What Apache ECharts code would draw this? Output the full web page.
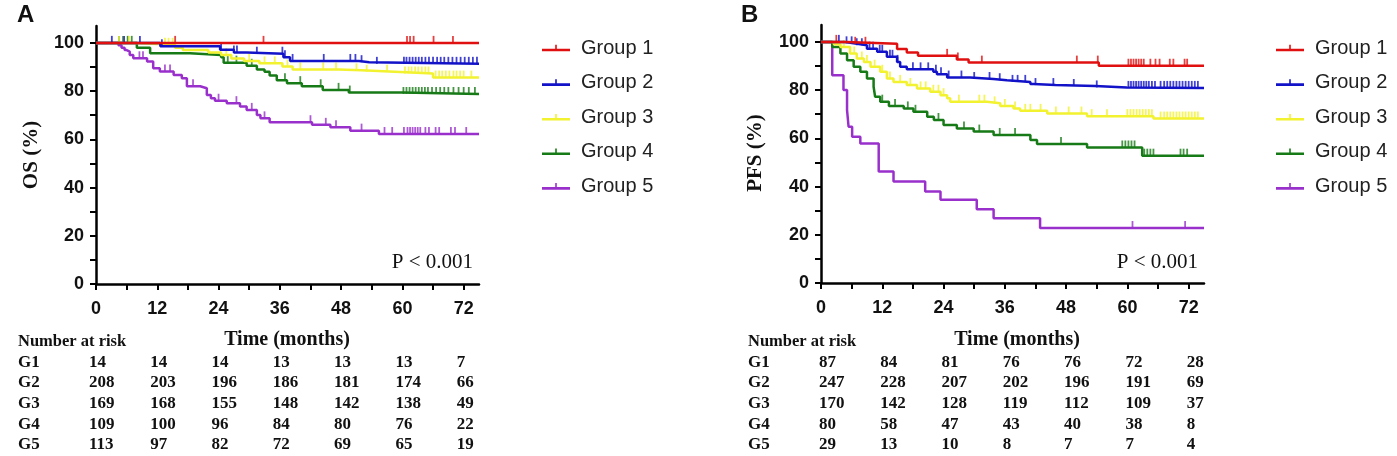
<!DOCTYPE html>
<html>
<head>
    <meta charset="utf-8">
    <title>OS / PFS Kaplan-Meier</title>
    <script src="https://cdn.jsdelivr.net/npm/echarts@6/dist/echarts.min.js"></script>
    <style>
        html, body { margin: 0; padding: 0; background: #fff; }
        #main { width: 1397px; height: 456px; }
    </style>
</head>
<body>
<div id="main"></div>
<script type="text/javascript">

    // ---- data ----
    var groups = ['Group 1', 'Group 2', 'Group 3', 'Group 4', 'Group 5'];
    var colors = ['#e01010', '#1212c8', '#f2f230', '#167a16', '#9a30cc'];
    var monthTicks = [0, 12, 24, 36, 48, 60, 72];
    var riskLabels = ['G1', 'G2', 'G3', 'G4', 'G5'];

    // panel A : overall survival, steps as [month, %]
    var osG1 = [[0, 100], [75, 100]];
    var osG2 = [[0, 100], [12.6, 98.6], [24.3, 97.2], [27, 96], [29.5, 95.5], [36.7, 94], [38, 92.5], [51.5, 92], [53.5, 91.3], [75, 91.3]];
    var osG3 = [[0, 100], [7.3, 99.2], [15.5, 98], [17, 97], [22, 96], [24.5, 95], [26.5, 93.5], [29, 92.5], [32, 91.5], [36.5, 90.2], [38.5, 89], [47.5, 88.6], [52, 88], [58.5, 87.3], [66, 85.6], [75, 85.6]];
    var osG4 = [[0, 100], [8, 98], [10.6, 95.7], [18.4, 95], [24.5, 94], [25, 91.8], [29.5, 90.5], [31.5, 89], [33, 88], [34, 86.5], [35.4, 84.5], [37.4, 83.3], [40.3, 82], [44.4, 80.5], [49.5, 79.4], [60, 78.8], [75, 78.8]];
    var osG5 = [[0, 100], [4.4, 99], [5, 98], [5.6, 97], [6, 96.4], [6.6, 95], [7.3, 93.6], [10, 92.3], [11.2, 89.5], [12.5, 88.1], [15.2, 86.7], [16.8, 85.3], [17.8, 82], [20.4, 81.2], [21.7, 78.4], [22.5, 77], [23.3, 76], [25.6, 75], [28.2, 73.6], [29.5, 72.2], [31.5, 70.1], [32.2, 68.7], [34, 67.1], [42.3, 66], [45.9, 65], [49.8, 63.6], [55.4, 62.2], [75, 62.2]];

    var osCensG1 = [15.5, 32.8, 60.9, 61.5, 62.2, 66.1, 69.9];
    var osCensG2 = [3.1, 5.5, 8.6, 12.9, 24.5, 27, 27.6, 31.5, 36.5, 37, 38.5, 44.6, 49.8, 50.8, 52, 55, 60.3, 60.8, 61.4, 62, 62.6, 63.2, 63.8, 64.5, 65.2, 66, 66.8, 67.5, 68.2, 69, 69.8, 70.6, 71.4, 72.2, 73, 73.8, 74.6];
    var osCensG3 = [4.5, 5.5, 6.5, 13.5, 14.2, 15, 25.5, 30, 33, 35, 37.5, 40, 44.5, 47, 51, 53, 57, 60.5, 61.2, 61.8, 62.5, 63.1, 63.8, 64.5, 65.1, 66.5, 67.2, 67.8, 68.5, 69.2, 70, 70.6, 71.3, 72, 73.5];
    var osCensG4 = [4.5, 5.3, 6.2, 7, 25.8, 27.5, 30.5, 37, 40, 44, 47.5, 49.7, 60.2, 60.8, 61.4, 62, 62.6, 63.2, 63.8, 64.4, 65, 65.8, 66.6, 67.4, 68.2, 69, 70, 71, 72, 73, 74.2];
    var osCensG5 = [8.5, 9.2, 13.5, 14.5, 19, 24, 27.5, 30.5, 33, 42, 45, 47, 52, 56.5, 58, 60.3, 61, 61.5, 62, 62.5, 63, 63.5, 64.5, 65.2, 66.5, 67.2, 69.5, 70.3, 72.5];

    // panel B : progression-free survival
    var pfsG1 = [[0, 100], [5, 99.2], [14.9, 97], [16.8, 95.6], [19, 94.2], [26.6, 92.7], [28.9, 91.4], [54.4, 90.1], [75, 90.1]];
    var pfsG2 = [[0, 100], [4.4, 99.4], [6.4, 98.6], [9, 97.2], [11, 95.9], [12.9, 93.8], [14.9, 91.7], [15.5, 89.7], [16.8, 88.6], [22, 87.6], [22.7, 86.6], [24.7, 85.2], [29.2, 84.6], [33.8, 84.1], [36.4, 83.4], [41, 82.5], [41.6, 82.1], [45.9, 81.7], [53.7, 81.1], [59.9, 80.9], [75, 80.9]];
    var pfsG3 = [[0, 100], [2.5, 99], [3.8, 97.9], [5.7, 95.2], [7, 93.1], [8.4, 91.7], [9.7, 89.7], [11.6, 87.6], [12.9, 84.8], [14.2, 83.4], [16.8, 82.1], [18.8, 80.7], [21.4, 79.3], [23.4, 77.9], [24.7, 76.6], [25.3, 75.2], [32.5, 74.5], [35.1, 73.4], [37.7, 72.4], [39, 71.4], [44.3, 70.3], [52.1, 69.2], [65.1, 68.2], [75, 68.2]];
    var pfsG4 = [[0, 100], [2.2, 97.9], [3.8, 95.2], [5.1, 92.4], [6.4, 89.7], [7.7, 87.6], [9, 84.8], [10.3, 81.4], [10.6, 77.2], [11.6, 75.2], [13.3, 73.4], [16.2, 72.4], [18.1, 71], [20.8, 69], [22.1, 67.6], [24, 65.5], [26.6, 64.1], [29.9, 62.8], [33.8, 61.4], [41, 59.3], [42.3, 57.6], [52.1, 56.2], [62.9, 52.8], [75, 52.8]];
    var pfsG5 = [[0, 100], [2.2, 86.2], [4.4, 80], [5.1, 71.7], [5.4, 64.8], [6.1, 60.7], [7.7, 57.9], [11.3, 46.2], [14.2, 42.1], [20.4, 37.9], [23.4, 34.5], [30.5, 30.6], [33.8, 26.9], [42.9, 22.8], [75, 22.8]];

    var pfsCensG1 = [3, 6.7, 8.7, 24.7, 26.8, 31.5, 50.1, 54.2, 60.2, 60.7, 61.2, 61.7, 62.2, 62.7, 63.2, 64.5, 65.5, 66.3, 68.3, 69, 71.2, 71.7];
    var pfsCensG2 = [3.5, 5, 6, 7, 8, 9.5, 10.2, 11.5, 12, 13.5, 14, 15, 18, 19.5, 21, 22.5, 23.5, 25, 27.5, 30, 33, 35, 37.5, 38.5, 40, 42, 45.5, 49.5, 54, 60.2, 60.7, 61.2, 61.7, 62.2, 62.7, 63.2, 63.7, 64.2, 64.8, 65.4, 66.5, 67.2, 67.8, 68.4, 69, 69.6, 70.2, 70.8, 71.4, 72, 72.6, 73.2, 73.8];
    var pfsCensG3 = [4.5, 6.5, 8, 9, 10.5, 12, 13.5, 15.5, 17.5, 19.5, 20.5, 22, 23, 24, 27, 31, 32, 34, 36, 38, 40, 41, 43, 46, 48.5, 51, 53, 56, 60, 60.6, 61.2, 61.8, 62.4, 63, 63.6, 64.2, 64.8, 66.5, 67.2, 67.8, 68.4, 69, 69.6, 70.2, 70.8, 71.4, 72, 72.6, 73.2, 73.8];
    var pfsCensG4 = [12, 14.5, 17, 18.5, 23, 28, 31, 35, 38, 47, 59, 59.6, 60.2, 60.8, 61.4, 63.3, 63.9, 64.5, 65.1, 70.4, 71, 71.7];
    var pfsCensG5 = [61, 71.3];

    // number at risk at 0,12,...,72 months
    var riskOS = [
        [14, 14, 14, 13, 13, 13, 7],
        [208, 203, 196, 186, 181, 174, 66],
        [169, 168, 155, 148, 142, 138, 49],
        [109, 100, 96, 84, 80, 76, 22],
        [113, 97, 82, 72, 69, 65, 19]
    ];
    var riskPFS = [
        [87, 84, 81, 76, 76, 72, 28],
        [247, 228, 207, 202, 196, 191, 69],
        [170, 142, 128, 119, 112, 109, 37],
        [80, 58, 47, 43, 40, 38, 8],
        [29, 13, 10, 8, 7, 7, 4]
    ];

    // ---- helpers ----
    var SERIF = '"Liberation Serif", "Times New Roman", serif';
    var SANS = '"Liberation Sans", Arial, sans-serif';

    // survival value of a step curve at month t
    function valueAt(steps, t) {
        var v = steps[0][1];
        for (var i = 0; i < steps.length; i++) {
            if (steps[i][0] <= t) v = steps[i][1];
        }
        return v;
    }

    function censorPoints(steps, times) {
        return times.map(function (t) { return [t, valueAt(steps, t)]; });
    }

    function panelSeries(idx, curves, censors) {
        var out = [];
        for (var g = 0; g < groups.length; g++) {
            out.push({
                name: groups[g],
                type: 'line',
                step: 'end',
                xAxisIndex: idx,
                yAxisIndex: idx,
                showSymbol: false,
                symbol: 'none',
                z: 10 - g,
                data: curves[g],
                itemStyle: { color: colors[g] },
                lineStyle: { color: colors[g], width: 2.5 },
                emphasis: { disabled: true }
            });
            out.push({
                name: groups[g],
                type: 'scatter',
                xAxisIndex: idx,
                yAxisIndex: idx,
                symbol: 'rect',
                symbolSize: [1.8, 7],
                symbolOffset: [0, -3.5],
                z: 10 - g,
                data: censorPoints(curves[g], censors[g]),
                itemStyle: { color: colors[g] },
                emphasis: { disabled: true }
            });
        }
        return out;
    }

    function xAxisDef(idx) {
        return {
            type: 'value',
            gridIndex: idx,
            min: 0,
            max: 75,
            axisLine: { lineStyle: { color: '#000', width: 2.5 } },
            axisTick: {
                customValues: [0, 6, 12, 18, 24, 30, 36, 42, 48, 54, 60, 66, 72],
                length: 6, lineStyle: { color: '#000', width: 2 }
            },
            axisLabel: {
                customValues: monthTicks,
                margin: 16,
                fontSize: 18, fontWeight: 'bold', fontFamily: SANS, color: '#111'
            },
            splitLine: { show: false }
        };
    }

    function yAxisDef(idx) {
        return {
            type: 'value',
            gridIndex: idx,
            min: 0,
            max: 107,
            axisLine: { show: true, lineStyle: { color: '#000', width: 2.5 } },
            axisTick: {
                show: true,
                customValues: [0, 10, 20, 30, 40, 50, 60, 70, 80, 90, 100],
                length: 6, lineStyle: { color: '#000', width: 2 }
            },
            axisLabel: {
                customValues: [0, 20, 40, 60, 80, 100],
                margin: 12,
                fontSize: 18, fontWeight: 'bold', fontFamily: SANS, color: '#111'
            },
            splitLine: { show: false }
        };
    }

    function legendDef(left) {
        return {
            orient: 'vertical',
            left: left,
            top: 33,
            itemWidth: 28,
            itemHeight: 8,
            itemGap: 14.6,
            selectedMode: false,
            icon: 'path://M0,5L28,5L28,7.6L0,7.6Z M13.2,1L14.8,1L14.8,6L13.2,6Z',
            data: groups,
            textStyle: { fontSize: 20, fontFamily: SANS, color: '#222', padding: [0, 0, 0, 6] }
        };
    }

    var myChart = echarts.init(document.getElementById('main'));

    myChart.setOption({
        animation: false,
        backgroundColor: '#fff',
        grid: [
            { left: 96, top: 26, width: 383, height: 258 },
            { left: 821, top: 25, width: 383, height: 258 }
        ],
        xAxis: [xAxisDef(0), xAxisDef(1)],
        yAxis: [yAxisDef(0), yAxisDef(1)],
        legend: [legendDef(537), legendDef(1271)],
        series: panelSeries(0, [osG1, osG2, osG3, osG4, osG5],
                [osCensG1, osCensG2, osCensG3, osCensG4, osCensG5])
            .concat(panelSeries(1, [pfsG1, pfsG2, pfsG3, pfsG4, pfsG5],
                [pfsCensG1, pfsCensG2, pfsCensG3, pfsCensG4, pfsCensG5]))
    });

    // texts: panel letters, axis titles, p values, number-at-risk tables
    function txt(x, y, s, font, size, weight, align, rot) {
        return {
            type: 'text', x: x, y: y, rotation: rot || 0,
            style: {
                text: s, fontFamily: font, fontSize: size, fontWeight: weight || 'normal',
                fill: '#111', align: align || 'left', verticalAlign: 'middle'
            },
            silent: true
        };
    }

    var gr = [];
    gr.push(txt(17, 15, 'A', SANS, 24, 'bold'));
    gr.push(txt(741, 15, 'B', SANS, 24, 'bold'));
    gr.push(txt(32, 155, 'OS (%)', SERIF, 21, 'bold', 'center', Math.PI / 2));
    gr.push(txt(756, 153, 'PFS (%)', SERIF, 21, 'bold', 'center', Math.PI / 2));
    gr.push(txt(473, 262, 'P < 0.001', SERIF, 21, 'normal', 'right'));
    gr.push(txt(1198, 262, 'P < 0.001', SERIF, 21, 'normal', 'right'));
    gr.push(txt(287, 340, 'Time (months)', SERIF, 20, 'bold', 'center'));
    gr.push(txt(1017, 340, 'Time (months)', SERIF, 20, 'bold', 'center'));

    function riskTable(idx, table, labelX, shift) {
        gr.push(txt(labelX, 342, 'Number at risk', SERIF, 16.5, 'bold'));
        for (var r = 0; r < table.length; r++) {
            var y = 362.5 + r * 20.6;
            gr.push(txt(labelX, y, riskLabels[r], SERIF, 17, 'bold'));
            for (var c = 0; c < monthTicks.length; c++) {
                var px = myChart.convertToPixel({ xAxisIndex: idx }, monthTicks[c]);
                gr.push(txt(px + shift, y, String(table[r][c]), SERIF, 17, 'bold'));
            }
        }
    }
    riskTable(0, riskOS, 18, -7);
    riskTable(1, riskPFS, 748, -2);

    myChart.setOption({ graphic: gr });

</script>
</body>
</html>
